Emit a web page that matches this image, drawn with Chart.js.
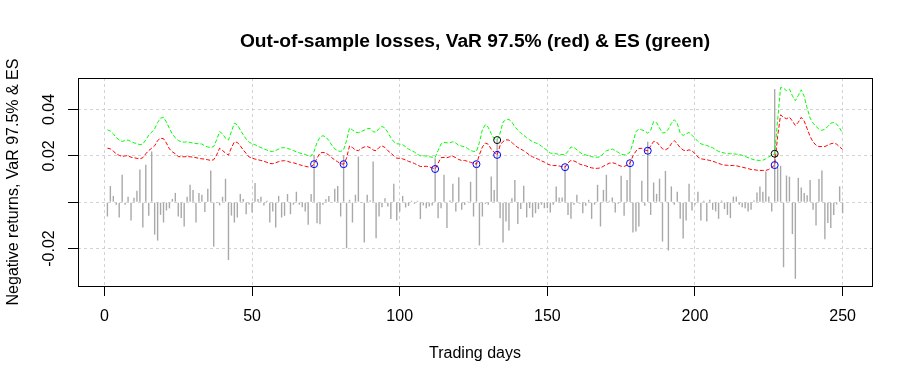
<!DOCTYPE html>
<html>
<head>
<meta charset="utf-8">
<script src="https://cdn.jsdelivr.net/npm/chart.js@4.4.1/dist/chart.umd.min.js"></script>
<style>
  html, body { margin: 0; padding: 0; background: #ffffff; }
  #chart { display: block; }
</style>
</head>
<body>
<canvas id="chart" width="912" height="384"></canvas>
<script>
// trading day index 1..250
const days = Array.from({ length: 250 }, (_, i) => i + 1);

// negative returns (losses)
const losses = [
  -0.0062, 0.0070, 0.0027, -0.0011, -0.0066, 0.0118, -0.0011, 0.0023, -0.0079, 0.0019,
  0.0049, 0.0141, -0.0109, 0.0161, -0.0059, 0.0219, -0.0140, -0.0166, -0.0055, -0.0088,
  -0.0036, -0.0027, 0.0014, 0.0040, -0.0062, -0.0068, -0.0105, 0.0023, 0.0075, 0.0053,
  -0.0088, 0.0040, 0.0032, -0.0043, 0.0058, 0.0137, -0.0192, -0.0004, -0.0014, 0.0023,
  0.0101, -0.0250, -0.0058, -0.0088, -0.0066, 0.0035, 0.0014, -0.0052, -0.0010, -0.0045,
  0.0083, 0.0014, 0.0023, -0.0014, 0.0006, -0.0088, -0.0040, -0.0109, 0.0027, -0.0066,
  -0.0059, 0.0035, -0.0052, -0.0011, 0.0045, -0.0011, -0.0022, -0.0040, -0.0098, 0.0035,
  0.0202, -0.0091, -0.0095, -0.0011, 0.0012, 0.0027, -0.0003, 0.0058, 0.0070, -0.0062,
  0.0202, -0.0199, 0.0010, -0.0088, 0.0032, 0.0197, -0.0004, -0.0174, 0.0032, 0.0007,
  0.0176, -0.0156, -0.0062, -0.0022, 0.0017, -0.0019, -0.0073, 0.0079, -0.0079, -0.0040,
  0.0027, -0.0023, -0.0016, 0.0006, -0.0007, 0.0006, -0.0073, -0.0014, -0.0026, -0.0019,
  -0.0014, 0.0189, -0.0069, -0.0026, 0.0118, -0.0112, 0.0007, 0.0079, -0.0040, 0.0108,
  -0.0033, -0.0012, 0.0004, 0.0088, -0.0062, 0.0176, -0.0187, -0.0062, -0.0007, -0.0011,
  0.0111, 0.0053, 0.0272, -0.0069, -0.0174, -0.0084, -0.0122, 0.0017, 0.0096, -0.0094,
  -0.0030, 0.0071, -0.0066, -0.0026, -0.0066, -0.0048, -0.0030, -0.0011, -0.0026, -0.0026,
  -0.0045, -0.0011, 0.0068, 0.0020, 0.0020, 0.0158, -0.0055, -0.0072, -0.0011, 0.0032,
  -0.0007, -0.0048, -0.0016, 0.0010, -0.0072, -0.0011, 0.0075, -0.0105, 0.0053, 0.0118,
  0.0006, 0.0020, -0.0045, -0.0007, 0.0114, -0.0059, 0.0096, 0.0178, -0.0131, -0.0127,
  -0.0105, 0.0092, -0.0016, 0.0261, -0.0055, 0.0085, 0.0036, 0.0101, -0.0170, 0.0135,
  -0.0209, 0.0068, -0.0011, 0.0045, -0.0072, -0.0157, -0.0079, 0.0079, -0.0036, -0.0011,
  0.0045, -0.0079, 0.0006, -0.0084, 0.0010, -0.0033, -0.0040, -0.0072, 0.0007, -0.0030,
  -0.0055, -0.0069, 0.0024, 0.0024, -0.0011, -0.0022, -0.0026, -0.0040, -0.0033, 0.0007,
  0.0042, 0.0068, 0.0045, 0.0132, 0.0024, -0.0040, 0.0488, 0.0150, 0.0157, -0.0281,
  0.0115, 0.0110, -0.0138, -0.0331, 0.0105, 0.0063, 0.0040, 0.0030, 0.0096, -0.0033,
  -0.0101, 0.0100, 0.0137, -0.0160, -0.0090, -0.0112, -0.0055, -0.0010, 0.0068, -0.0048
];

// VaR 97.5% (red dashed)
const varValues = [
  0.0233, 0.0230, 0.0220, 0.0209, 0.0202, 0.0197, 0.0200, 0.0200, 0.0194, 0.0192,
  0.0189, 0.0187, 0.0192, 0.0209, 0.0223, 0.0233, 0.0243, 0.0266, 0.0276, 0.0274,
  0.0255, 0.0230, 0.0217, 0.0209, 0.0197, 0.0196, 0.0196, 0.0197, 0.0196, 0.0194,
  0.0192, 0.0189, 0.0187, 0.0186, 0.0183, 0.0180, 0.0183, 0.0204, 0.0233, 0.0223,
  0.0212, 0.0203, 0.0235, 0.0260, 0.0258, 0.0243, 0.0226, 0.0210, 0.0195, 0.0190,
  0.0186, 0.0183, 0.0180, 0.0176, 0.0172, 0.0167, 0.0166, 0.0170, 0.0175, 0.0178,
  0.0179, 0.0176, 0.0172, 0.0170, 0.0166, 0.0162, 0.0158, 0.0155, 0.0152, 0.0153,
  0.0164, 0.0190, 0.0212, 0.0215, 0.0212, 0.0203, 0.0192, 0.0182, 0.0174, 0.0166,
  0.0164, 0.0190, 0.0243, 0.0236, 0.0225, 0.0222, 0.0232, 0.0238, 0.0240, 0.0235,
  0.0225, 0.0222, 0.0236, 0.0243, 0.0236, 0.0222, 0.0212, 0.0200, 0.0190, 0.0189,
  0.0187, 0.0182, 0.0176, 0.0172, 0.0167, 0.0160, 0.0154, 0.0154, 0.0155, 0.0152,
  0.0148, 0.0143, 0.0168, 0.0192, 0.0193, 0.0192, 0.0196, 0.0198, 0.0192, 0.0184,
  0.0180, 0.0180, 0.0176, 0.0172, 0.0168, 0.0164, 0.0205, 0.0238, 0.0255, 0.0250,
  0.0229, 0.0215, 0.0204, 0.0245, 0.0262, 0.0269, 0.0268, 0.0258, 0.0245, 0.0236,
  0.0229, 0.0222, 0.0213, 0.0203, 0.0196, 0.0190, 0.0185, 0.0178, 0.0173, 0.0165,
  0.0160, 0.0158, 0.0158, 0.0156, 0.0153, 0.0151, 0.0170, 0.0180, 0.0178, 0.0172,
  0.0164, 0.0160, 0.0157, 0.0152, 0.0148, 0.0146, 0.0146, 0.0148, 0.0155, 0.0162,
  0.0168, 0.0170, 0.0167, 0.0160, 0.0155, 0.0154, 0.0160, 0.0168, 0.0200, 0.0220,
  0.0232, 0.0232, 0.0225, 0.0222, 0.0243, 0.0262, 0.0260, 0.0245, 0.0230, 0.0226,
  0.0233, 0.0252, 0.0266, 0.0252, 0.0235, 0.0225, 0.0221, 0.0226, 0.0221, 0.0210,
  0.0195, 0.0187, 0.0185, 0.0183, 0.0180, 0.0177, 0.0172, 0.0167, 0.0163, 0.0160,
  0.0159, 0.0158, 0.0158, 0.0157, 0.0154, 0.0151, 0.0148, 0.0145, 0.0141, 0.0140,
  0.0138, 0.0137, 0.0137, 0.0137, 0.0141, 0.0150, 0.0160, 0.0284, 0.0377, 0.0366,
  0.0360, 0.0367, 0.0350, 0.0331, 0.0345, 0.0366, 0.0350, 0.0317, 0.0284, 0.0260,
  0.0246, 0.0240, 0.0240, 0.0240, 0.0246, 0.0252, 0.0255, 0.0250, 0.0238, 0.0228
];

// expected shortfall (green dashed)
const esValues = [
  0.0312, 0.0307, 0.0295, 0.0279, 0.0268, 0.0262, 0.0266, 0.0268, 0.0262, 0.0256,
  0.0253, 0.0248, 0.0251, 0.0269, 0.0289, 0.0302, 0.0317, 0.0344, 0.0363, 0.0366,
  0.0346, 0.0318, 0.0294, 0.0278, 0.0266, 0.0261, 0.0259, 0.0261, 0.0258, 0.0255,
  0.0253, 0.0252, 0.0251, 0.0243, 0.0238, 0.0236, 0.0240, 0.0269, 0.0305, 0.0295,
  0.0276, 0.0268, 0.0305, 0.0341, 0.0334, 0.0312, 0.0291, 0.0272, 0.0259, 0.0252,
  0.0248, 0.0240, 0.0236, 0.0230, 0.0225, 0.0220, 0.0219, 0.0223, 0.0229, 0.0235,
  0.0235, 0.0232, 0.0228, 0.0223, 0.0217, 0.0213, 0.0209, 0.0206, 0.0200, 0.0199,
  0.0219, 0.0258, 0.0281, 0.0287, 0.0281, 0.0266, 0.0246, 0.0230, 0.0222, 0.0219,
  0.0226, 0.0266, 0.0320, 0.0312, 0.0302, 0.0300, 0.0305, 0.0311, 0.0317, 0.0318,
  0.0304, 0.0302, 0.0318, 0.0327, 0.0320, 0.0301, 0.0278, 0.0261, 0.0252, 0.0251,
  0.0248, 0.0239, 0.0229, 0.0222, 0.0216, 0.0207, 0.0200, 0.0200, 0.0199, 0.0196,
  0.0194, 0.0193, 0.0223, 0.0251, 0.0258, 0.0256, 0.0256, 0.0261, 0.0255, 0.0245,
  0.0242, 0.0239, 0.0232, 0.0223, 0.0219, 0.0219, 0.0258, 0.0312, 0.0335, 0.0323,
  0.0295, 0.0274, 0.0268, 0.0298, 0.0346, 0.0356, 0.0357, 0.0346, 0.0325, 0.0311,
  0.0298, 0.0289, 0.0278, 0.0269, 0.0261, 0.0256, 0.0251, 0.0242, 0.0232, 0.0223,
  0.0212, 0.0210, 0.0209, 0.0206, 0.0206, 0.0204, 0.0220, 0.0238, 0.0236, 0.0226,
  0.0215, 0.0207, 0.0204, 0.0200, 0.0197, 0.0194, 0.0194, 0.0196, 0.0210, 0.0222,
  0.0226, 0.0229, 0.0223, 0.0215, 0.0207, 0.0204, 0.0207, 0.0216, 0.0255, 0.0305,
  0.0315, 0.0312, 0.0307, 0.0298, 0.0310, 0.0348, 0.0343, 0.0320, 0.0298, 0.0301,
  0.0315, 0.0340, 0.0356, 0.0340, 0.0298, 0.0288, 0.0295, 0.0301, 0.0289, 0.0276,
  0.0262, 0.0252, 0.0248, 0.0245, 0.0239, 0.0235, 0.0226, 0.0219, 0.0215, 0.0212,
  0.0209, 0.0209, 0.0209, 0.0207, 0.0206, 0.0202, 0.0197, 0.0192, 0.0187, 0.0183,
  0.0181, 0.0180, 0.0181, 0.0187, 0.0196, 0.0202, 0.0209, 0.0355, 0.0495, 0.0492,
  0.0481, 0.0488, 0.0459, 0.0438, 0.0461, 0.0485, 0.0456, 0.0406, 0.0363, 0.0341,
  0.0327, 0.0315, 0.0310, 0.0315, 0.0327, 0.0341, 0.0344, 0.0337, 0.0320, 0.0298
];

const xTicks = [0, 50, 100, 150, 200, 250];
const yTicks = [-0.02, 0, 0.02, 0.04];

const FONT = "'Liberation Sans', Arial, sans-serif";

// days where the loss breaks through VaR (blue) or ES (black)
const varHits = days.filter((d, i) => losses[i] > varValues[i]).map(d => ({ x: d, y: varValues[d - 1] }));
const esHits = days.filter((d, i) => losses[i] > esValues[i]).map(d => ({ x: d, y: esValues[d - 1] }));

// R style box around the plot region + y labels written along the axis
const framePlugin = {
  id: 'frame',
  afterDraw(chart) {
    const { ctx, chartArea: a, scales } = chart;
    const y = scales.y;
    ctx.save();
    ctx.strokeStyle = '#000';
    ctx.lineWidth = 1;
    ctx.strokeRect(Math.round(a.left) + 0.5, Math.round(a.top) + 0.5,
      Math.round(a.right - a.left), Math.round(a.bottom - a.top));

    ctx.fillStyle = '#000';
    ctx.font = '16px ' + FONT;
    ctx.textAlign = 'center';
    ctx.textBaseline = 'middle';
    y.ticks.forEach(t => {
      if (t.value === 0) return; // R drops this one
      const py = y.getPixelForValue(t.value);
      ctx.save();
      ctx.translate(50, py);
      ctx.rotate(-Math.PI / 2);
      ctx.fillText(t.value.toFixed(2), 0, 0);
      ctx.restore();
    });
    ctx.restore();
  }
};

Chart.defaults.font.family = FONT;
Chart.defaults.color = '#000';

new Chart(document.getElementById('chart'), {
  type: 'line',
  data: {
    datasets: [
      {
        type: 'scatter',
        label: 'ES exceedance',
        data: esHits,
        showLine: false,
        pointRadius: 3.5,
        pointBorderWidth: 1,
        pointBorderColor: '#000000',
        pointBackgroundColor: 'rgba(0,0,0,0)',
        order: 1
      },
      {
        type: 'scatter',
        label: 'VaR exceedance',
        data: varHits,
        showLine: false,
        pointRadius: 3.5,
        pointBorderWidth: 1,
        pointBorderColor: '#0000ff',
        pointBackgroundColor: 'rgba(0,0,0,0)',
        order: 2
      },
      {
        label: 'ES',
        data: days.map((d, i) => ({ x: d, y: esValues[i] })),
        borderColor: '#00ff00',
        borderWidth: 1,
        borderDash: [4, 2],
        pointRadius: 0,
        tension: 0,
        fill: false,
        order: 3
      },
      {
        label: 'VaR 97.5%',
        data: days.map((d, i) => ({ x: d, y: varValues[i] })),
        borderColor: '#ff0000',
        borderWidth: 1,
        borderDash: [4, 2],
        pointRadius: 0,
        tension: 0,
        fill: false,
        order: 4
      },
      {
        type: 'bar',
        label: 'Losses',
        data: days.map((d, i) => ({ x: d, y: losses[i] })),
        backgroundColor: '#a9a9a9',
        borderWidth: 0,
        barThickness: 1.4,
        inflateAmount: 0,
        order: 5
      }
    ]
  },
  options: {
    responsive: false,
    animation: false,
    devicePixelRatio: 1,
    layout: { padding: { left: 0, right: 40, top: 0, bottom: 0 } },
    plugins: {
      legend: { display: false },
      tooltip: { enabled: false },
      title: {
        display: true,
        fullSize: false,
        text: 'Out-of-sample losses, VaR 97.5% (red) & ES (green)',
        font: { size: 19.2, weight: 'bold', family: FONT },
        color: '#000',
        padding: { top: 30.5, bottom: 24.46 }
      }
    },
    scales: {
      x: {
        type: 'linear',
        offset: false,
        min: -8.96,
        max: 259.96,
        afterBuildTicks: axis => { axis.ticks = xTicks.map(v => ({ value: v })); },
        afterFit: axis => { axis.height = 98; },
        ticks: {
          autoSkip: false,
          maxRotation: 0,
          padding: 11,
          font: { size: 16 },
          callback: v => String(v)
        },
        grid: {
          offset: false,
          color: '#d3d3d3',
          lineWidth: 1,
          drawTicks: true,
          tickLength: 10,
          tickColor: '#000',
          tickWidth: 1
        },
        border: { display: false, dash: [3, 3] },
        title: {
          display: true,
          text: 'Trading days',
          font: { size: 16 },
          padding: { top: 0, bottom: 20.4 }
        }
      },
      y: {
        type: 'linear',
        min: -0.0362,
        max: 0.0536,
        afterBuildTicks: axis => { axis.ticks = yTicks.map(v => ({ value: v })); },
        afterFit: axis => { axis.width = 78; },
        ticks: { display: false },
        grid: {
          color: '#d3d3d3',
          lineWidth: 1,
          drawTicks: true,
          tickLength: 10,
          tickColor: '#000',
          tickWidth: 1
        },
        border: { display: false, dash: [3, 3] },
        title: {
          display: true,
          text: 'Negative returns, VaR 97.5% & ES',
          font: { size: 16 },
          padding: { top: 3.6, bottom: 0 }
        }
      }
    }
  },
  plugins: [framePlugin]
});
</script>
</body>
</html>
